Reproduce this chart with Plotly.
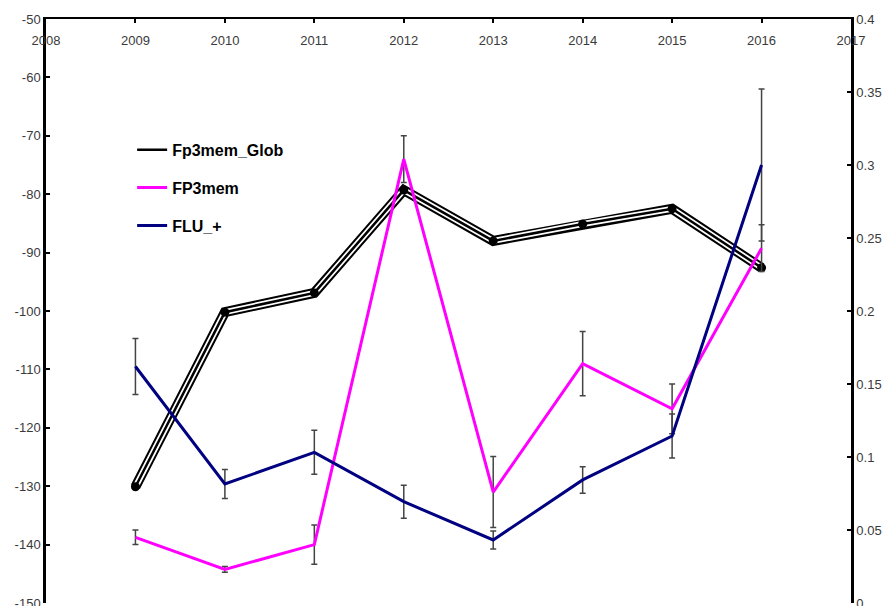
import plotly.graph_objects as go

# Years on the shared x axis
years = [2009, 2010, 2011, 2012, 2013, 2014, 2015, 2016]

# Fp3mem_Glob (left axis)
glob_vals = [-130.1, -100.2, -96.9, -79.3, -88.0, -85.1, -82.5, -92.6]

# FP3mem (right axis) with symmetric errors
fp3_vals = [0.045, 0.023, 0.040, 0.304, 0.076, 0.164, 0.133, 0.243]
fp3_err = [0.005, 0.002, 0.0134, 0.016, 0.0243, 0.022, 0.017, 0.016]

# FLU_+ (right axis) with symmetric errors
flu_vals = [0.162, 0.0815, 0.1032, 0.0694, 0.0432, 0.0843, 0.1144, 0.300]
flu_err = [0.0192, 0.0099, 0.0151, 0.0113, 0.0062, 0.0091, 0.0151, 0.052]

# Axis tick labels
x_ticks = list(range(2008, 2018))
left_ticks = [-50, -60, -70, -80, -90, -100, -110, -120, -130, -140, -150]
left_labels = ["-50", "-60", "-70", "-80", "-90", "-100", "-110", "-120", "-130", "-140", "-150"]
right_ticks = [0, 0.05, 0.1, 0.15, 0.2, 0.25, 0.3, 0.35, 0.4]
right_labels = ["0", "0.05", "0.1", "0.15", "0.2", "0.25", "0.3", "0.35", "0.4"]

tick_font = dict(family="Liberation Sans, Arial", size=13, color="#3a3a3a")
err_style = dict(type="data", visible=True, color="#444444", thickness=1.5, width=3)

fig = go.Figure()

# Triple-stroke black line: wide black, white stripe, thin black centre
fig.add_trace(go.Scatter(x=years, y=glob_vals, mode="lines", yaxis="y",
                         line=dict(color="black", width=10), showlegend=False,
                         legendgroup="g1", hoverinfo="skip"))
fig.add_trace(go.Scatter(x=years, y=glob_vals, mode="lines", yaxis="y",
                         line=dict(color="white", width=6), showlegend=False,
                         legendgroup="g1", hoverinfo="skip"))
fig.add_trace(go.Scatter(x=years, y=glob_vals, mode="lines", yaxis="y",
                         line=dict(color="black", width=2.5), name="Fp3mem_Glob",
                         legendgroup="g1"))
fig.add_trace(go.Scatter(x=years, y=glob_vals, mode="markers", yaxis="y",
                         marker=dict(color="black", size=9), showlegend=False,
                         legendgroup="g1", hoverinfo="skip"))

fig.add_trace(go.Scatter(x=years, y=fp3_vals, mode="lines", yaxis="y2",
                         line=dict(color="#ff00ff", width=3), name="FP3mem",
                         legendgroup="g2",
                         error_y=dict(array=fp3_err, **err_style)))

fig.add_trace(go.Scatter(x=years, y=flu_vals, mode="lines", yaxis="y2",
                         line=dict(color="#000080", width=3), name="FLU_+",
                         legendgroup="g3",
                         error_y=dict(array=flu_err, **err_style)))

fig.update_layout(
    width=884, height=606,
    template="none",
    paper_bgcolor="white", plot_bgcolor="white",
    margin=dict(l=46, r=33, t=19, b=3),
    showlegend=True,
    legend=dict(x=0.107, y=0.805, xanchor="left", yanchor="top",
                bgcolor="rgba(0,0,0,0)", borderwidth=0,
                font=dict(family="Liberation Sans, Arial", size=16, color="black",
                          weight="bold"),
                itemwidth=30, traceorder="grouped", tracegroupgap=14),
    xaxis=dict(range=[2008, 2017], side="top", tickvals=x_ticks,
               ticks="inside", ticklen=4, tickwidth=2, tickcolor="black",
               ticklabelposition="inside", ticklabelstandoff=13,
               ticklabeloverflow="allow",
               showline=True, linewidth=2, linecolor="black",
               showgrid=False, zeroline=False, tickfont=tick_font,
               automargin=False),
    yaxis=dict(range=[-150, -50], tickvals=left_ticks, ticktext=left_labels,
               ticks="inside", ticklen=4, tickwidth=2, tickcolor="black",
               ticklabeloverflow="allow",
               showline=True, linewidth=2.5, linecolor="black",
               showgrid=False, zeroline=False, tickfont=tick_font,
               automargin=False),
    yaxis2=dict(range=[0, 0.4], overlaying="y", side="right",
                tickvals=right_ticks, ticktext=right_labels,
                ticks="inside", ticklen=4, tickwidth=2, tickcolor="black",
                ticklabeloverflow="allow",
                showline=True, linewidth=2.5, linecolor="black",
                showgrid=False, zeroline=False, tickfont=tick_font,
                automargin=False),
)

fig.write_html("out.html")
